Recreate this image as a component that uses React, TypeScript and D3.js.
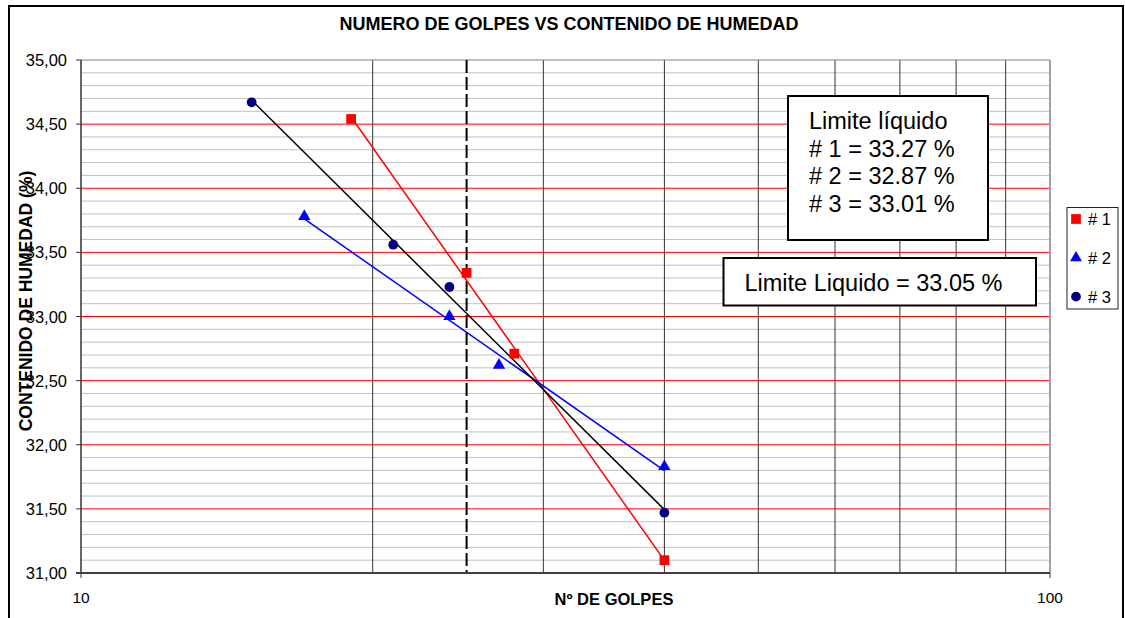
import React from 'react';
import * as d3 from 'd3';

const seriesNames = ['# 1', '# 2', '# 3'];
const golpes1 = [19, 25, 28, 40];
const humedad1 = [34.54, 33.34, 32.71, 31.1];
const golpes2 = [17, 24, 27, 40];
const humedad2 = [33.78, 33.0, 32.62, 31.83];
const golpes3 = [15, 21, 24, 40];
const humedad3 = [34.67, 33.56, 33.23, 31.47];

const yTicks = [31, 31.5, 32, 32.5, 33, 33.5, 34, 34.5, 35];
const yMinor = [31.1, 31.2, 31.3, 31.4, 31.6, 31.7, 31.8, 31.9, 32.1, 32.2, 32.3, 32.4, 32.6, 32.7, 32.8, 32.9, 33.1, 33.2, 33.3, 33.4, 33.6, 33.7, 33.8, 33.9, 34.1, 34.2, 34.3, 34.4, 34.6, 34.7, 34.8, 34.9];
const xTicks = [10, 100];
const xGrid = [20, 30, 40, 50, 60, 70, 80, 90];
const golpesRef = 25;

const title = 'NUMERO DE GOLPES VS CONTENIDO DE HUMEDAD';
const xTitle = 'Nº DE GOLPES';
const yTitle = 'CONTENIDO DE HUMEDAD (%)';
const llLabels = ['Limite líquido', '# 1 = 33.27 %', '# 2 = 32.87 %', '# 3 = 33.01 %'];
const llTotal = 'Limite Liquido = 33.05 %';

const FONT = '"Liberation Sans", Arial, Helvetica, sans-serif';

function logFit(xs: number[], ys: number[]) {
  const lx = xs.map((v) => Math.log10(v));
  const mx = d3.mean(lx) as number;
  const my = d3.mean(ys) as number;
  let sxy = 0;
  let sxx = 0;
  lx.forEach((v, i) => {
    sxy += (v - mx) * (ys[i] - my);
    sxx += (v - mx) * (v - mx);
  });
  const slope = sxy / sxx;
  return (x: number) => my + slope * (Math.log10(x) - mx);
}

export default function App() {
  const x = d3.scaleLog().domain([10, 100]).range([81, 1050]);
  const y = d3.scaleLinear().domain([31, 35]).range([573, 60]);

  const series = [
    { name: seriesNames[0], xs: golpes1, ys: humedad1, color: '#FF0000', fill: '#FF0000', sym: d3.symbolSquare, size: 95 },
    { name: seriesNames[1], xs: golpes2, ys: humedad2, color: '#0000FF', fill: '#0000FF', sym: d3.symbolTriangle, size: 66 },
    { name: seriesNames[2], xs: golpes3, ys: humedad3, color: '#000000', fill: '#000080', sym: d3.symbolCircle, size: 75 },
  ];

  const line = d3.line<number[]>().x((d) => x(d[0])).y((d) => y(d[1]));

  return (
    <div style={{ position: 'absolute', left: 0, top: 0 }}>
      <svg width={1125} height={618} style={{ display: 'block', background: '#fff' }} fontFamily={FONT}>
        <rect x={0} y={0} width={1125} height={618} fill="#fff" />
        <rect x={9} y={6} width={1114} height={630} fill="#fff" stroke="#000" strokeWidth={2} />

        <text x={569} y={30} textAnchor="middle" fontSize={18} fontWeight="bold" fill="#000">{title}</text>

        {/* minor grid */}
        {yMinor.map((v) => (
          <line key={'m' + v} x1={81} x2={1050} y1={y(v)} y2={y(v)} stroke="#C0C0C0" strokeWidth={1} />
        ))}
        {/* vertical grid */}
        {xGrid.map((v) => (
          <line key={'v' + v} x1={x(v)} x2={x(v)} y1={60} y2={573} stroke="#333" strokeWidth={1} />
        ))}
        {/* major grid */}
        {yTicks.filter((v) => v > 31 && v < 35).map((v) => (
          <line key={'M' + v} x1={81} x2={1050} y1={y(v)} y2={y(v)} stroke="#FF0000" strokeWidth={1} />
        ))}
        {/* plot border top / right */}
        <line x1={81} x2={1050} y1={y(35)} y2={y(35)} stroke="#808080" strokeWidth={1} />
        <line x1={1050} x2={1050} y1={60} y2={573} stroke="#A0A0A0" strokeWidth={2} />

        {/* dashed reference line */}
        <line x1={x(golpesRef)} x2={x(golpesRef)} y1={60} y2={573} stroke="#000" strokeWidth={2} strokeDasharray="13 4" />

        {/* trend lines */}
        {series.map((s) => {
          const f = logFit(s.xs, s.ys);
          const x0 = d3.min(s.xs) as number;
          const x1 = d3.max(s.xs) as number;
          return <path key={'t' + s.name} d={line([[x0, f(x0)], [x1, f(x1)]]) || ''} fill="none" stroke={s.color} strokeWidth={1.5} />;
        })}

        {/* markers */}
        {series.map((s) =>
          s.xs.map((gx, i) => (
            <path key={s.name + i} transform={`translate(${x(gx)},${y(s.ys[i])})`} d={d3.symbol().type(s.sym).size(s.size)() || ''} fill={s.fill} />
          ))
        )}

        {/* axes */}
        <line x1={81} x2={81} y1={60} y2={573} stroke="#333" strokeWidth={1.5} />
        <line x1={76} x2={1050} y1={573} y2={573} stroke="#404040" strokeWidth={2} />
        {yTicks.map((v) => (
          <g key={'yt' + v}>
            <line x1={76} x2={81} y1={y(v)} y2={y(v)} stroke="#333" strokeWidth={1} />
            <text x={67} y={y(v) + 6} textAnchor="end" fontSize={16.5} fill="#000">{d3.format('.2f')(v).replace('.', ',')}</text>
          </g>
        ))}
        {xTicks.map((v) => (
          <g key={'xt' + v}>
            <line x1={x(v)} x2={x(v)} y1={573} y2={578} stroke="#333" strokeWidth={1} />
            <text x={x(v)} y={603} textAnchor="middle" fontSize={15.5} fill="#000">{v}</text>
          </g>
        ))}

        <text x={614} y={605} textAnchor="middle" fontSize={16.5} fontWeight="bold" fill="#000">{xTitle}</text>
        <text transform="translate(32,301) rotate(-90)" textAnchor="middle" fontSize={17.5} fontWeight="bold" fill="#000">{yTitle}</text>

        {/* annotation boxes */}
        <rect x={788} y={96} width={200} height={144} fill="#fff" stroke="#000" strokeWidth={2} />
        {llLabels.map((t, i) => (
          <text key={t} x={809} y={129 + i * 27.7} fontSize={23.5} fill="#000">{t}</text>
        ))}
        <rect x={723.5} y={258} width={312.5} height={47.5} fill="#fff" stroke="#000" strokeWidth={2} />
        <text x={744.5} y={291} fontSize={23.5} fill="#000">{llTotal}</text>

        {/* legend */}
        <rect x={1067} y={207.5} width={51} height={101.5} fill="#fff" stroke="#222" strokeWidth={1} />
        {series.map((s, i) => (
          <g key={'lg' + s.name} transform={`translate(0,${219 + i * 38.8})`}>
            <path transform="translate(1076,0)" d={d3.symbol().type(s.sym).size(s.sym === d3.symbolTriangle ? 62 : s.size)() || ''} fill={s.fill} />
            <text x={1088} y={6} fontSize={16.5} fill="#000">{s.name}</text>
          </g>
        ))}
      </svg>
    </div>
  );
}
